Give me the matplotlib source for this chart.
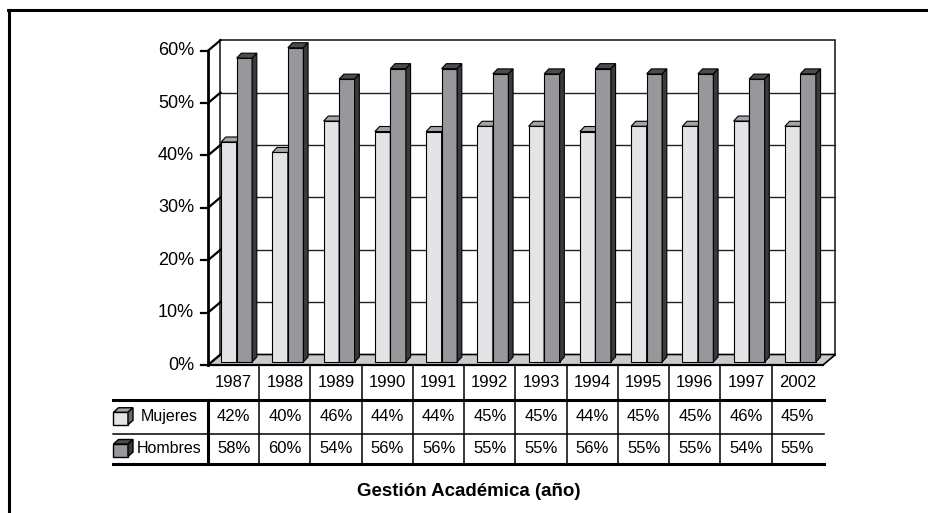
import numpy as np
import matplotlib.pyplot as plt
from matplotlib.patches import Polygon, Rectangle

plt.rcParams['font.family'] = ['Liberation Sans', 'DejaVu Sans']

years = ['1987', '1988', '1989', '1990', '1991', '1992', '1993', '1994',
         '1995', '1996', '1997', '2002']
mujeres = [42, 40, 46, 44, 44, 45, 45, 44, 45, 45, 46, 45]
hombres = [58, 60, 54, 56, 56, 55, 55, 56, 55, 55, 54, 55]
series_names = ['Mujeres', 'Hombres']
yticks = [0, 10, 20, 30, 40, 50, 60]
xlabel = 'Gestión Académica (año)'

# colours: face, top, side
col_m = ('#e4e4e6', '#a4a4aa', '#6c6c70')
col_h = ('#97979c', '#4c4c50', '#3a3a3c')
floor_col = '#c8cacd'

W, H = 929, 513
fig = plt.figure(figsize=(W / 100, H / 100), dpi=100)

# plot area geometry in pixels (front plane)
X0, X1 = 208, 823
YT, YB = 50.7, 365
n = len(years)
colw = (X1 - X0) / n

ax = fig.add_axes([X0 / W, 1 - YB / H, (X1 - X0) / W, (YB - YT) / H])
ax.set_xlim(-0.5, n - 0.5)
ax.set_ylim(0, 60)
ax.axis('off')

xr = n / (X1 - X0)        # data units per pixel, x
yr = 60 / (YB - YT)       # data units per pixel, y
ddx, ddy = 12.5 * xr, 10.5 * yr   # wall depth
bx, by = 3 * xr, 3 * yr           # bar front offset
cdx, cdy = 4.7 * xr, 5 * yr       # bar depth
bw = 15.5 * xr

kw = dict(clip_on=False)

# floor
ax.add_patch(Polygon([(-0.5, 0), (n - 0.5, 0), (n - 0.5 + ddx, ddy), (-0.5 + ddx, ddy)],
                     closed=True, facecolor=floor_col, edgecolor='black', lw=1.2, zorder=1, **kw))
# back wall
ax.add_patch(Rectangle((-0.5 + ddx, ddy), n, 60, facecolor='white',
                       edgecolor='#222222', lw=1.2, zorder=0.5, **kw))
for t in yticks[1:-1]:
    ax.plot([-0.5 + ddx, n - 0.5 + ddx], [t + ddy, t + ddy], color='#222222', lw=1, zorder=0.8, **kw)
# side wall diagonals and ticks
for t in yticks:
    ax.plot([-0.5, -0.5 + ddx], [t, t + ddy], color='black', lw=1.6, zorder=2, **kw)
    ax.plot([-0.5 - 6.5 * xr, -0.5], [t, t], color='black', lw=1.6, zorder=2, **kw)
    ax.text(-0.5 - 14 * xr, t, f'{t}%', ha='right', va='center', fontsize=13, **kw)
ax.plot([-0.5, -0.5], [0, 60], color='black', lw=2, zorder=2, **kw)
ax.plot([-0.5, n - 0.5], [0, 0], color='black', lw=1.6, zorder=2, **kw)

x = np.arange(n)


def bars3d(xleft, vals, cols, z):
    ax.bar(xleft, vals, width=bw, bottom=by, align='edge', color=cols[0],
           edgecolor='black', lw=0.8, zorder=z, **kw)
    for xl, v in zip(xleft, vals):
        top = v + by
        xrr = xl + bw
        ax.add_patch(Polygon([(xl, top), (xrr, top), (xrr + cdx, top + cdy), (xl + cdx, top + cdy)],
                             closed=True, facecolor=cols[1], edgecolor='black', lw=0.8, zorder=z, **kw))
        ax.add_patch(Polygon([(xrr, by), (xrr, top), (xrr + cdx, top + cdy), (xrr + cdx, by + cdy)],
                             closed=True, facecolor=cols[2], edgecolor='black', lw=0.8, zorder=z, **kw))


bars3d(x - bw + bx, mujeres, col_m, 3)
bars3d(x + bx, hombres, col_h, 4)

# overlay in pixel coordinates for table, frame and title
ov = fig.add_axes([0, 0, 1, 1], zorder=-1)
ov.set_xlim(0, W)
ov.set_ylim(H, 0)
ov.axis('off')

# outer frame
ov.plot([8, W], [10, 10], color='black', lw=2.2)
ov.plot([9, 9], [10, H], color='black', lw=2.2)

TL = 112.7
rows = [365, 400, 433.5, 463.5]
ov.plot([TL, X1 + 1], [rows[1]] * 2, color='black', lw=2.2)
ov.plot([TL, X1 + 1], [rows[2]] * 2, color='black', lw=1.1)
ov.plot([TL, X1 + 1], [rows[3]] * 2, color='black', lw=2.2)
ov.plot([X0, X0], [rows[1], rows[3]], color='black', lw=2.2)
for k in range(1, n):
    xx = X0 + colw * k
    ov.plot([xx, xx], [rows[0], rows[3]], color='black', lw=1.1)

for i, yv in enumerate(years):
    cx = X0 + colw * (i + 0.5)
    ov.text(cx, (rows[0] + rows[1]) / 2, yv, ha='center', va='center', fontsize=12)
    ov.text(cx, (rows[1] + rows[2]) / 2, f'{mujeres[i]}%', ha='center', va='center', fontsize=12)
    ov.text(cx, (rows[2] + rows[3]) / 2, f'{hombres[i]}%', ha='center', va='center', fontsize=12)

# legend cubes and row labels
for r, (name, cols) in enumerate(zip(series_names, [col_m, col_h])):
    yc = (rows[r + 1] + rows[r + 2]) / 2
    fx0, fx1 = 113.5, 128
    fy0, fy1 = yc + 8, yc - 4.5
    dx, dy = 5, -4.5
    ov.add_patch(Polygon([(fx0, fy0), (fx1, fy0), (fx1, fy1), (fx0, fy1)], closed=True,
                         facecolor=cols[0], edgecolor='black', lw=1))
    ov.add_patch(Polygon([(fx0, fy1), (fx1, fy1), (fx1 + dx, fy1 + dy), (fx0 + dx, fy1 + dy)], closed=True,
                         facecolor=cols[1], edgecolor='black', lw=1))
    ov.add_patch(Polygon([(fx1, fy0), (fx1, fy1), (fx1 + dx, fy1 + dy), (fx1 + dx, fy0 + dy)], closed=True,
                         facecolor=cols[2], edgecolor='black', lw=1))
    ov.text(169.5, yc, name, ha='center', va='center', fontsize=11.5)

ov.text(469, 492, xlabel, ha='center', va='center', fontsize=13.5, fontweight='bold')

fig.savefig('out.png', dpi=100)
